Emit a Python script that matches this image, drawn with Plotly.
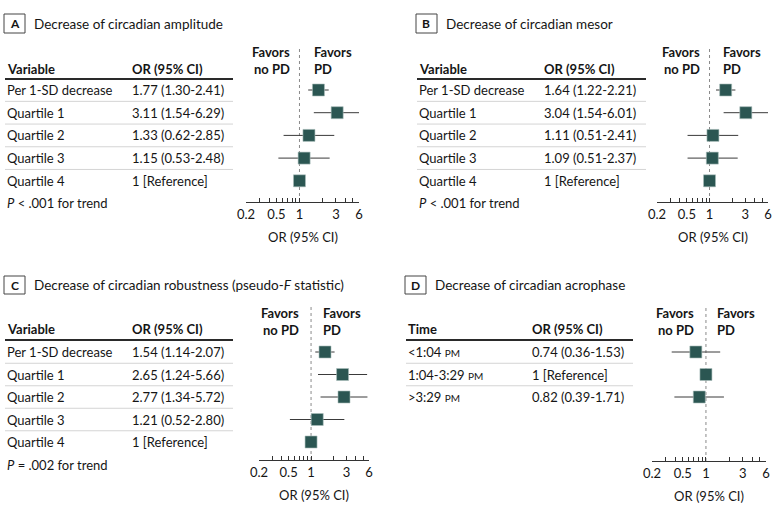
import math
import plotly.graph_objects as go

# ---------------- DATA ----------------
a_labels = ["Per 1-SD decrease", "Quartile 1", "Quartile 2", "Quartile 3", "Quartile 4"]
a_text = ["1.77 (1.30-2.41)", "3.11 (1.54-6.29)", "1.33 (0.62-2.85)", "1.15 (0.53-2.48)", "1 [Reference]"]
a_or = [1.77, 3.11, 1.33, 1.15, 1.0]
a_lo = [1.30, 1.54, 0.62, 0.53, None]
a_hi = [2.41, 6.29, 2.85, 2.48, None]

b_labels = ["Per 1-SD decrease", "Quartile 1", "Quartile 2", "Quartile 3", "Quartile 4"]
b_text = ["1.64 (1.22-2.21)", "3.04 (1.54-6.01)", "1.11 (0.51-2.41)", "1.09 (0.51-2.37)", "1 [Reference]"]
b_or = [1.64, 3.04, 1.11, 1.09, 1.0]
b_lo = [1.22, 1.54, 0.51, 0.51, None]
b_hi = [2.21, 6.01, 2.41, 2.37, None]

c_labels = ["Per 1-SD decrease", "Quartile 1", "Quartile 2", "Quartile 3", "Quartile 4"]
c_text = ["1.54 (1.14-2.07)", "2.65 (1.24-5.66)", "2.77 (1.34-5.72)", "1.21 (0.52-2.80)", "1 [Reference]"]
c_or = [1.54, 2.65, 2.77, 1.21, 1.0]
c_lo = [1.14, 1.24, 1.34, 0.52, None]
c_hi = [2.07, 5.66, 5.72, 2.80, None]

PM = "<span style='font-size:10px'>PM</span>"
d_labels = ["&lt;1:04 " + PM, "1:04-3:29 " + PM, "&gt;3:29 " + PM]
d_text = ["0.74 (0.36-1.53)", "1 [Reference]", "0.82 (0.39-1.71)"]
d_or = [0.74, 1.0, 0.82]
d_lo = [0.36, None, 0.39]
d_hi = [1.53, None, 1.71]

tick_vals = [0.2, 0.3, 0.4, 0.5, 0.6, 0.7, 0.8, 0.9, 1, 2, 3, 4, 5, 6]
tick_text = ["0.2", "", "", "0.5", "", "", "", "", "1", "", "3", "", "", "6"]

panel_letters = ["A", "B", "C", "D"]
panel_titles = ["Decrease of circadian amplitude",
                "Decrease of circadian mesor",
                "Decrease of circadian robustness (pseudo-<i>F</i> statistic)",
                "Decrease of circadian acrophase"]
first_headers = ["Variable", "Variable", "Variable", "Time"]
trend_texts = ["<i>P</i> &lt; .001 for trend", "<i>P</i> &lt; .001 for trend",
               "<i>P</i> = .002 for trend", None]

data = [
    (a_labels, a_text, a_or, a_lo, a_hi),
    (b_labels, b_text, b_or, b_lo, b_hi),
    (c_labels, c_text, c_or, c_lo, c_hi),
    (d_labels, d_text, d_or, d_lo, d_hi),
]

# ---------------- LAYOUT (pixel geometry) ----------------
W, H = 780, 512
FONT = "Lato"
TXT = "#151515"
MARK = "#2b5652"

def px(x):
    return x / W

def py(y):
    return 1 - y / H

geom = [
    dict(box=(4, 14, 25, 33), title_x=32, title_y=24, tab_l=5, col2=130, tab_r=233,
         head_y=69, line_y=79, row0=90, dy=22.7, trend_y=203,
         nopd_r=292, pd_l=312, fav_y1=52, fav_y2=69, ax_l=246, ax_r=359, ax_y=202, dot_top=46),
    dict(box=(416, 14, 437, 33), title_x=444, title_y=24, tab_l=417, col2=542, tab_r=646,
         head_y=69, line_y=79, row0=90, dy=22.7, trend_y=203,
         nopd_r=702, pd_l=721, fav_y1=52, fav_y2=69, ax_l=657, ax_r=768, ax_y=202, dot_top=46),
    dict(box=(4, 276, 25, 294), title_x=32, title_y=285, tab_l=5, col2=130, tab_r=233,
         head_y=329, line_y=340, row0=352, dy=22.5, trend_y=465,
         nopd_r=301, pd_l=321, fav_y1=313, fav_y2=330, ax_l=259, ax_r=369, ax_y=460, dot_top=307),
    dict(box=(405, 276, 426, 294), title_x=433, title_y=285, tab_l=406, col2=530, tab_r=633,
         head_y=329, line_y=340, row0=352, dy=22.5, trend_y=None,
         nopd_r=696, pd_l=715, fav_y1=313, fav_y2=330, ax_l=652, ax_r=766, ax_y=461, dot_top=307),
]

fig = go.Figure()
annotations = []
shapes = []
lr = [math.log10(0.2), math.log10(6)]

for k, (labels, texts, ors, los, his) in enumerate(data):
    g = geom[k]
    sfx = "" if k == 0 else str(k + 1)
    xa, ya = "x" + sfx, "y" + sfx

    y_bottom = (g["ax_y"] - g["row0"]) / g["dy"]
    y_top = (g["dot_top"] - g["row0"]) / g["dy"]

    # dotted reference line at OR = 1
    fig.add_trace(go.Scatter(x=[1, 1], y=[y_bottom, y_top], mode="lines",
                             line=dict(color="#8a8a8a", width=1, dash="dot"),
                             xaxis=xa, yaxis=ya, showlegend=False, hoverinfo="skip",
                             cliponaxis=False))

    rows = list(range(len(labels)))
    plus = [(h - o) if h is not None else 0 for o, h in zip(ors, his)]
    minus = [(o - l) if l is not None else 0 for o, l in zip(ors, los)]
    fig.add_trace(go.Scatter(
        x=ors, y=rows, mode="markers",
        marker=dict(symbol="square", size=12, color=MARK,
                    line=dict(color="#a9bdbb", width=0.6)),
        error_x=dict(type="data", symmetric=False, array=plus, arrayminus=minus,
                     color="#3a3a3a", thickness=1, width=0),
        xaxis=xa, yaxis=ya, showlegend=False, cliponaxis=False))

    fig.update_layout({
        ("xaxis" + sfx): dict(type="log", range=lr, domain=[px(g["ax_l"]), px(g["ax_r"])],
                              anchor=ya, tickvals=tick_vals, ticktext=tick_text,
                              ticks="inside", ticklen=4, tickcolor="#333", tickwidth=1,
                              showline=True, linecolor="#333", linewidth=1,
                              showgrid=False, zeroline=False, automargin=False,
                              tickfont=dict(family=FONT, size=13, color=TXT)),
        ("yaxis" + sfx): dict(range=[y_bottom, y_top], domain=[py(g["ax_y"]), py(g["dot_top"])],
                              anchor=xa, visible=False, showgrid=False, zeroline=False,
                              automargin=False),
    })

    # title box and title
    x0, y0, x1, y1 = g["box"]
    shapes.append(dict(type="rect", xref="paper", yref="paper",
                       x0=px(x0), x1=px(x1), y0=py(y1), y1=py(y0),
                       line=dict(color="#444", width=1)))
    annotations.append(dict(text="<b>" + panel_letters[k] + "</b>", x=px((x0 + x1) / 2),
                            y=py((y0 + y1) / 2), xanchor="center", yanchor="middle",
                            font=dict(family=FONT, size=12, color=TXT)))
    annotations.append(dict(text=panel_titles[k], x=px(g["title_x"]), y=py(g["title_y"]),
                            xanchor="left", yanchor="middle",
                            font=dict(family=FONT, size=13.5, color=TXT)))

    # headers
    annotations.append(dict(text="<b>" + first_headers[k] + "</b>", x=px(g["tab_l"]),
                            y=py(g["head_y"]), xanchor="left", yanchor="middle",
                            font=dict(family=FONT, size=13, color=TXT)))
    annotations.append(dict(text="<b>OR (95% CI)</b>", x=px(g["col2"]),
                            y=py(g["head_y"]), xanchor="left", yanchor="middle",
                            font=dict(family=FONT, size=13, color=TXT)))
    for txt, yy in (("Favors", g["fav_y1"]), ("no PD", g["fav_y2"])):
        annotations.append(dict(text="<b>" + txt + "</b>", x=px(g["nopd_r"]), y=py(yy),
                                xanchor="right", yanchor="middle",
                                font=dict(family=FONT, size=13, color=TXT)))
    for txt, yy in (("Favors", g["fav_y1"]), ("PD", g["fav_y2"])):
        annotations.append(dict(text="<b>" + txt + "</b>", x=px(g["pd_l"]), y=py(yy),
                                xanchor="left", yanchor="middle",
                                font=dict(family=FONT, size=13, color=TXT)))
    shapes.append(dict(type="line", xref="paper", yref="paper",
                       x0=px(g["tab_l"]), x1=px(g["tab_r"]), y0=py(g["line_y"]), y1=py(g["line_y"]),
                       line=dict(color="#2a2a2a", width=2)))

    # rows
    n = len(labels)
    for i in range(n):
        yc = g["row0"] + i * g["dy"]
        annotations.append(dict(text=labels[i], x=px(g["tab_l"]), y=py(yc), xanchor="left",
                                yanchor="middle", font=dict(family=FONT, size=13, color=TXT)))
        annotations.append(dict(text=texts[i], x=px(g["col2"]), y=py(yc), xanchor="left",
                                yanchor="middle", font=dict(family=FONT, size=13, color=TXT)))
        if i < n - 1:
            ly = yc + g["dy"] / 2
            shapes.append(dict(type="line", xref="paper", yref="paper",
                               x0=px(g["tab_l"]), x1=px(g["tab_r"]), y0=py(ly), y1=py(ly),
                               line=dict(color="#d4d4d4", width=1)))
    if trend_texts[k]:
        annotations.append(dict(text=trend_texts[k], x=px(g["tab_l"]), y=py(g["trend_y"]),
                                xanchor="left", yanchor="middle",
                                font=dict(family=FONT, size=13, color=TXT)))

    # axis title
    annotations.append(dict(text="OR (95% CI)", x=px((g["ax_l"] + g["ax_r"]) / 2),
                            y=py(g["ax_y"] + 35), xanchor="center", yanchor="middle",
                            font=dict(family=FONT, size=13, color=TXT)))

for a in annotations:
    a.setdefault("xref", "paper")
    a.setdefault("yref", "paper")
    a.setdefault("showarrow", False)

fig.update_layout(width=W, height=H,
                  margin=dict(l=0, r=0, t=0, b=0, pad=0, autoexpand=False),
                  paper_bgcolor="white", plot_bgcolor="white",
                  annotations=annotations, shapes=shapes,
                  font=dict(family=FONT, size=13, color=TXT))

fig.write_html("out.html", config={"displayModeBar": False},
               post_script="document.body.style.margin='0';document.body.style.overflow='hidden';")
